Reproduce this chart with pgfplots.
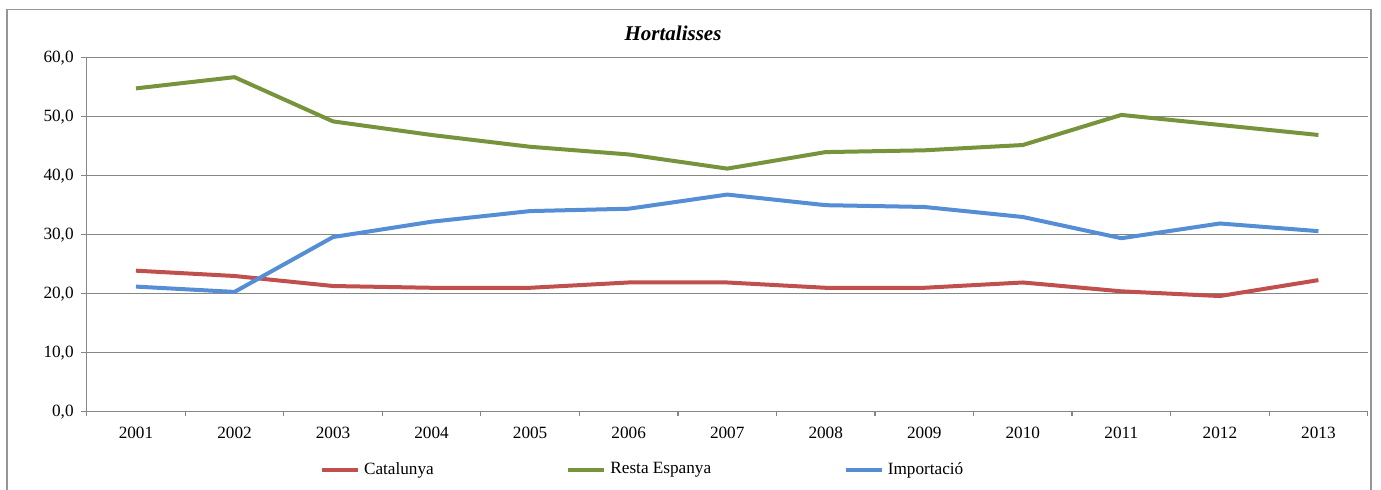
\documentclass[border=0pt]{standalone}
\usepackage{fontspec}
\setmainfont{Liberation Serif}
\usepackage{pgfplots}
\pgfplotsset{compat=1.18}

\definecolor{catred}{RGB}{192,80,77}
\definecolor{restgreen}{RGB}{119,147,60}
\definecolor{impblue}{RGB}{85,142,213}
\definecolor{gridgray}{RGB}{134,134,134}
\definecolor{framegray}{RGB}{150,150,150}

\begin{document}
\begin{tikzpicture}[x=1pt,y=1pt]
\begin{axis}[
  name=main,
  scale only axis,
  width=640.5pt, height=177pt,
  xmin=0.5, xmax=13.5,
  ymin=0, ymax=60,
  axis x line=bottom,
  axis y line=left,
  axis line style={gridgray,-,line width=0.6pt},
  tick align=outside,
  major tick length=3pt,
  minor tick length=2pt,
  tick style={gridgray,line width=0.6pt},
  xtick={1,...,13},
  xticklabels={2001,2002,2003,2004,2005,2006,2007,2008,2009,2010,2011,2012,2013},
  xticklabel style={yshift=-1pt},
  major x tick style={draw=none},
  minor xtick={0.5,1.5,...,13.5},
  ytick={0,10,...,60},
  ymajorgrids,
  grid style={gridgray,line width=0.6pt},
  tick label style={font=\fontsize{8.6}{10}\selectfont, text=black},
  yticklabel style={/pgf/number format/.cd, fixed, fixed zerofill, precision=1, use comma, assume math mode=true},
  title={Hortalisses},
  title style={at={(0.4577,1)}, anchor=center, yshift=6.3pt,
    font=\bfseries\itshape\fontsize{10.5}{12}\selectfont},
  legend columns=3,
  legend style={draw=none, fill=none, at={(0.4348,-0.164)}, anchor=center,
    font=\fontsize{8.6}{10}\selectfont,
    /tikz/every even column/.append style={column sep=64.3pt}},
  legend image code/.code={\draw[#1] (0pt,0pt) -- (18pt,0pt);},
  every axis plot/.append style={line width=2pt, line join=round},
]
\addplot[catred] coordinates {
  (1,23.9) (2,23.0) (3,21.3) (4,21.0) (5,21.0) (6,21.9) (7,21.9)
  (8,21.0) (9,21.0) (10,21.9) (11,20.4) (12,19.6) (13,22.3)
};
\addlegendentry{Catalunya}
\addplot[restgreen] coordinates {
  (1,54.8) (2,56.7) (3,49.2) (4,46.9) (5,44.9) (6,43.6) (7,41.2)
  (8,44.0) (9,44.3) (10,45.2) (11,50.3) (12,48.6) (13,46.9)
};
\addlegendentry{Resta Espanya}
\addplot[impblue] coordinates {
  (1,21.2) (2,20.3) (3,29.6) (4,32.2) (5,34.0) (6,34.4) (7,36.8)
  (8,35.0) (9,34.7) (10,33.0) (11,29.4) (12,31.9) (13,30.6)
};
\addlegendentry{Importació}
\end{axis}
\pgfresetboundingbox
\begin{scope}[shift={(main.south west)}]
  \useasboundingbox (-43.35,-39.15) rectangle (647.15,205.85);
  \draw[framegray,line width=0.7pt] (-39.85,-39.15) -- (-39.85,201.1) -- (642.15,201.1) -- (642.15,-39.15);
\end{scope}
\end{tikzpicture}
\end{document}
